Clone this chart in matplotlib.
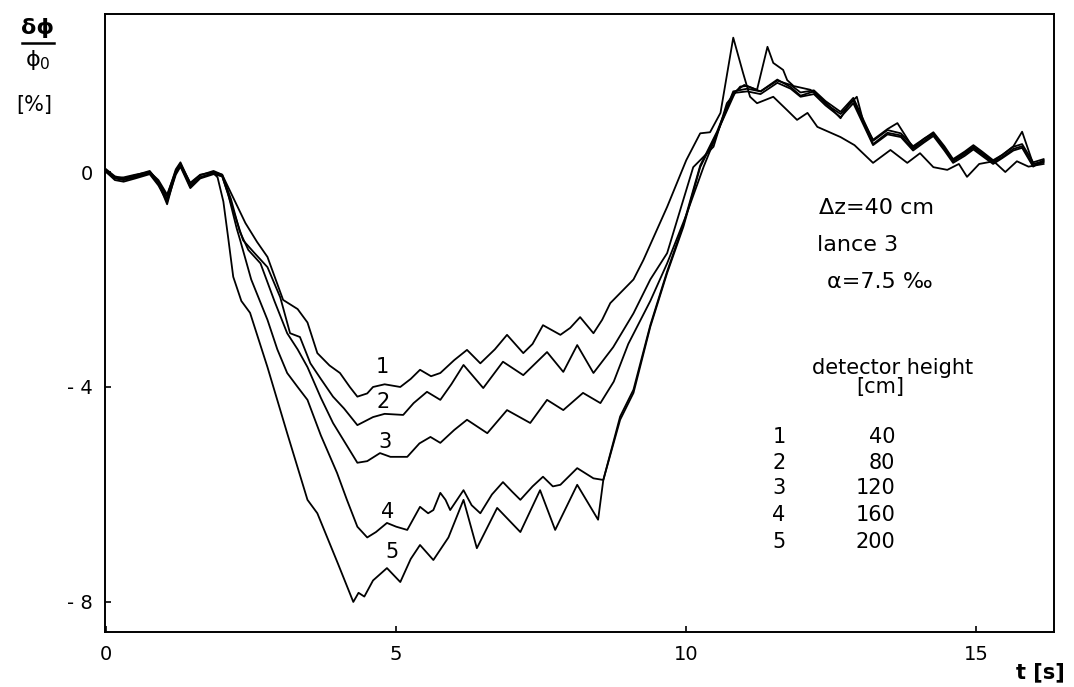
import matplotlib.pyplot as plt
from matplotlib.lines import Line2D

# --- values ---
t_start = [0.0, 0.15, 0.3, 0.5, 0.75, 0.9, 1.05, 1.2, 1.28, 1.45, 1.62, 1.85]

# curve 1 (40 cm)
t1 = t_start + [2.0, 2.2, 2.4, 2.6, 2.78, 3.05, 3.3, 3.47, 3.64, 3.85, 4.03, 4.2, 4.33, 4.5,
                4.6, 4.8, 5.07, 5.25, 5.41, 5.6, 5.76, 6.0, 6.22, 6.45, 6.7, 6.91, 7.19,
                7.35, 7.53, 7.83, 8.0, 8.17, 8.4, 8.55, 8.69, 9.09, 9.26, 9.67, 10.0,
                10.24, 10.41, 10.59, 10.81, 10.98, 11.1, 11.22, 11.5, 11.74, 11.91, 12.09,
                12.26, 12.66, 12.9, 13.22, 13.52, 13.81, 14.03, 14.26, 14.5, 14.7, 14.84,
                15.05, 15.3, 15.5, 15.7, 15.9, 16.16]
v1 = [0.02, -0.1, -0.1, -0.05, 0.0, -0.15, -0.42, 0.02, 0.15, -0.2, -0.05, 0.0] + \
     [-0.05, -0.5, -0.95, -1.3, -1.58, -2.38, -2.55, -2.8, -3.37, -3.6, -3.74, -4.0, -4.18,
      -4.12, -4.0, -3.95, -4.0, -3.85, -3.68, -3.8, -3.74, -3.5, -3.31, -3.56, -3.3, -3.03,
      -3.37, -3.2, -2.85, -3.03, -2.9, -2.7, -3.0, -2.75, -2.44, -2.0, -1.64, -0.65, 0.22,
      0.72, 0.74, 1.1, 2.5, 1.84, 1.4, 1.28, 1.4, 1.15, 0.97, 1.1, 0.84, 0.65, 0.5, 0.17,
      0.41, 0.17, 0.35, 0.09, 0.04, 0.15, -0.09, 0.15, 0.2, 0.0, 0.2, 0.1, 0.15]

# curve 2 (80 cm)
t2 = t_start + [2.0, 2.19, 2.36, 2.55, 2.78, 3.0, 3.17, 3.34, 3.52, 3.7, 3.91, 4.1, 4.33,
                4.6, 4.8, 5.12, 5.3, 5.53, 5.76, 5.95, 6.16, 6.5, 6.84, 7.19, 7.6, 7.88,
                8.12, 8.4, 8.74, 9.09, 9.38, 9.67, 10.12, 10.24, 10.47, 10.7, 10.93, 11.05,
                11.22, 11.4, 11.5, 11.67, 11.74, 11.85, 12.14, 12.4, 12.66, 12.8, 12.94,
                13.05, 13.22, 13.47, 13.64, 13.91, 14.1, 14.26, 14.45, 14.6, 14.8, 14.95,
                15.1, 15.29, 15.45, 15.64, 15.79, 15.98, 16.16]
v2 = [0.0, -0.12, -0.15, -0.1, -0.02, -0.22, -0.5, -0.02, 0.12, -0.25, -0.1, -0.02] + \
     [-0.08, -0.71, -1.27, -1.5, -1.77, -2.33, -3.0, -3.07, -3.56, -3.85, -4.18, -4.4, -4.71,
      -4.56, -4.5, -4.52, -4.3, -4.09, -4.24, -3.95, -3.59, -4.02, -3.53, -3.78, -3.35,
      -3.72, -3.22, -3.74, -3.26, -2.63, -2.0, -1.51, 0.09, 0.22, 0.47, 1.28, 1.59, 1.6,
      1.53, 2.33, 2.03, 1.9, 1.71, 1.6, 1.53, 1.3, 1.0, 1.25, 1.4, 0.95, 0.6, 0.8, 0.91,
      0.45, 0.62, 0.72, 0.45, 0.22, 0.36, 0.47, 0.35, 0.2, 0.32, 0.48, 0.75, 0.15, 0.2]

# curve 3 (120 cm)
t3 = t_start + [2.0, 2.15, 2.3, 2.45, 2.66, 2.9, 3.12, 3.3, 3.47, 3.7, 3.91, 4.16, 4.33,
                4.5, 4.72, 4.9, 5.19, 5.4, 5.59, 5.76, 6.0, 6.22, 6.57, 6.91, 7.31, 7.6,
                7.88, 8.22, 8.52, 8.75, 9.0, 9.38, 9.67, 10.0, 10.3, 10.6, 10.85, 11.0,
                11.28, 11.57, 11.8, 11.97, 12.2, 12.4, 12.66, 12.88, 13.22, 13.47, 13.7,
                13.91, 14.1, 14.26, 14.45, 14.6, 14.8, 14.95, 15.1, 15.29, 15.45, 15.64,
                15.79, 15.98, 16.16]
v3 = [0.05, -0.08, -0.12, -0.06, 0.02, -0.18, -0.45, 0.05, 0.18, -0.22, -0.06, 0.02] + \
     [-0.05, -0.5, -1.1, -1.45, -1.7, -2.4, -3.0, -3.3, -3.63, -4.2, -4.67, -5.11, -5.41,
      -5.38, -5.23, -5.3, -5.3, -5.05, -4.93, -5.04, -4.8, -4.61, -4.86, -4.43, -4.67,
      -4.24, -4.43, -4.11, -4.3, -3.9, -3.2, -2.4, -1.7, -0.8, 0.1, 0.9, 1.5, 1.62, 1.5,
      1.72, 1.58, 1.42, 1.5, 1.27, 1.08, 1.33, 0.52, 0.73, 0.68, 0.43, 0.58, 0.7, 0.43,
      0.2, 0.33, 0.45, 0.33, 0.18, 0.28, 0.43, 0.48, 0.12, 0.18]

# curve 4 (160 cm)
t4 = t_start + [2.0, 2.1, 2.25, 2.31, 2.5, 2.78, 2.95, 3.12, 3.3, 3.47, 3.7, 3.98, 4.15,
                4.33, 4.5, 4.65, 4.84, 5.0, 5.19, 5.41, 5.55, 5.64, 5.76, 5.85, 5.93, 6.16,
                6.3, 6.45, 6.65, 6.84, 7.0, 7.14, 7.35, 7.53, 7.7, 7.83, 8.12, 8.4, 8.57,
                8.86, 9.09, 9.38, 9.67, 9.95, 10.24, 10.53, 10.81, 11.05, 11.28, 11.57,
                11.8, 11.97, 12.2, 12.4, 12.66, 12.88, 13.22, 13.47, 13.7, 13.91, 14.1,
                14.26, 14.45, 14.6, 14.8, 14.95, 15.1, 15.29, 15.45, 15.64, 15.79, 15.98,
                16.16]
v4 = [0.0, -0.15, -0.18, -0.12, -0.04, -0.25, -0.55, -0.05, 0.1, -0.3, -0.12, -0.04] + \
     [-0.08, -0.4, -1.05, -1.27, -2.0, -2.75, -3.3, -3.74, -4.0, -4.24, -4.9, -5.6, -6.1,
      -6.6, -6.8, -6.7, -6.53, -6.6, -6.66, -6.23, -6.35, -6.29, -5.97, -6.1, -6.29, -5.92,
      -6.2, -6.35, -6.0, -5.77, -5.95, -6.1, -5.85, -5.67, -5.85, -5.82, -5.51, -5.7,
      -5.73, -4.61, -4.11, -2.88, -1.88, -1.02, 0.09, 0.72, 1.47, 1.5, 1.45, 1.66, 1.55,
      1.4, 1.45, 1.24, 1.02, 1.28, 0.5, 0.7, 0.65, 0.4, 0.55, 0.67, 0.4, 0.17, 0.3, 0.42,
      0.3, 0.15, 0.26, 0.4, 0.45, 0.1, 0.22]

# curve 5 (200 cm)
t5 = t_start + [1.92, 2.02, 2.1, 2.19, 2.33, 2.48, 2.78, 3.12, 3.47, 3.64, 4.0, 4.26, 4.35,
                4.45, 4.6, 4.84, 5.07, 5.25, 5.41, 5.64, 5.9, 6.16, 6.39, 6.74, 7.14, 7.48,
                7.74, 8.12, 8.48, 8.57, 8.86, 9.09, 9.38, 9.67, 9.95, 10.24, 10.53, 10.81,
                11.05, 11.28, 11.57, 11.8, 11.97, 12.2, 12.4, 12.66, 12.88, 13.22, 13.47,
                13.7, 13.91, 14.1, 14.26, 14.45, 14.6, 14.8, 14.95, 15.1, 15.29, 15.45,
                15.64, 15.79, 15.98, 16.16]
v5 = [0.03, -0.1, -0.14, -0.08, 0.0, -0.2, -0.6, 0.0, 0.14, -0.28, -0.1, -0.02] + \
     [-0.1, -0.55, -1.2, -1.95, -2.4, -2.62, -3.63, -4.86, -6.1, -6.35, -7.3, -8.0, -7.83,
      -7.9, -7.6, -7.37, -7.63, -7.2, -6.94, -7.22, -6.8, -6.1, -7.0, -6.25, -6.7, -5.92,
      -6.66, -5.82, -6.47, -5.73, -4.55, -4.05, -2.85, -1.85, -0.98, 0.12, 0.75, 1.5,
      1.55, 1.5, 1.7, 1.62, 1.48, 1.52, 1.32, 1.12, 1.38, 0.58, 0.78, 0.72, 0.48, 0.62,
      0.74, 0.48, 0.24, 0.38, 0.5, 0.38, 0.22, 0.32, 0.47, 0.52, 0.18, 0.24]

curves = [(t1, v1), (t2, v2), (t3, v3), (t4, v4), (t5, v5)]
curve_ids = ['1', '2', '3', '4', '5']
label_t = [4.76, 4.78, 4.81, 4.86, 4.93]
label_v = [-3.63, -4.28, -5.02, -6.33, -7.07]
heights = ['40', '80', '120', '160', '200']

# --- figure ---
fig = plt.figure(figsize=(10.74, 6.87), dpi=100)
ax = fig.add_axes([0.0978, 0.080, 0.8836, 0.8996])

for t, v in curves:
    ax.plot(t, v, color='black', lw=1.3)

for cid, lt, lv in zip(curve_ids, label_t, label_v):
    ax.text(lt, lv, cid, fontsize=15, ha='center', va='center')

ax.set_xlim(-0.02, 16.34)
ax.set_ylim(-8.56, 2.94)
ax.set_xticks([0, 5, 10, 15])
ax.set_xticklabels(['0', '5', '10', '15'])
ax.set_yticks([0, -4, -8])
ax.set_yticklabels(['0', '- 4', '- 8'])
ax.tick_params(direction='in', length=4, width=1.2, labelsize=14, pad=9)
for sp in ax.spines.values():
    sp.set_linewidth(1.4)

# parameter notes
ax.text(12.28, -0.67, 'Δz=40 cm', fontsize=16, ha='left', va='center')
ax.text(12.26, -1.36, 'lance 3', fontsize=16, ha='left', va='center')
ax.text(12.43, -2.05, 'α=7.5 ‰', fontsize=16, ha='left', va='center')

ax.text(13.55, -3.65, 'detector height', fontsize=15, ha='center', va='center')
ax.text(13.34, -4.0, '[cm]', fontsize=15, ha='center', va='center')
row_v = [-4.93, -5.41, -5.88, -6.38, -6.88]
for cid, h, rv in zip(curve_ids, heights, row_v):
    ax.text(11.6, rv, cid, fontsize=15, ha='center', va='center')
    ax.text(13.6, rv, h, fontsize=15, ha='right', va='center')

# axis labels
fig.text(1040 / 1074, 1 - 672 / 687, 't [s]', fontsize=15, fontweight='bold',
         ha='center', va='center')
fig.text(38 / 1074, 1 - 28 / 687, 'δϕ', fontsize=16, fontweight='bold',
         ha='center', va='center')
fig.add_artist(Line2D([22 / 1074, 54 / 1074], [1 - 43 / 687, 1 - 43 / 687],
                      color='black', lw=1.8))
fig.text(38 / 1074, 1 - 60 / 687, 'ϕ$_0$', fontsize=16, ha='center', va='center')
fig.text(34 / 1074, 1 - 105 / 687, '[%]', fontsize=15, ha='center', va='center')

fig.savefig('out.png', dpi=100)
